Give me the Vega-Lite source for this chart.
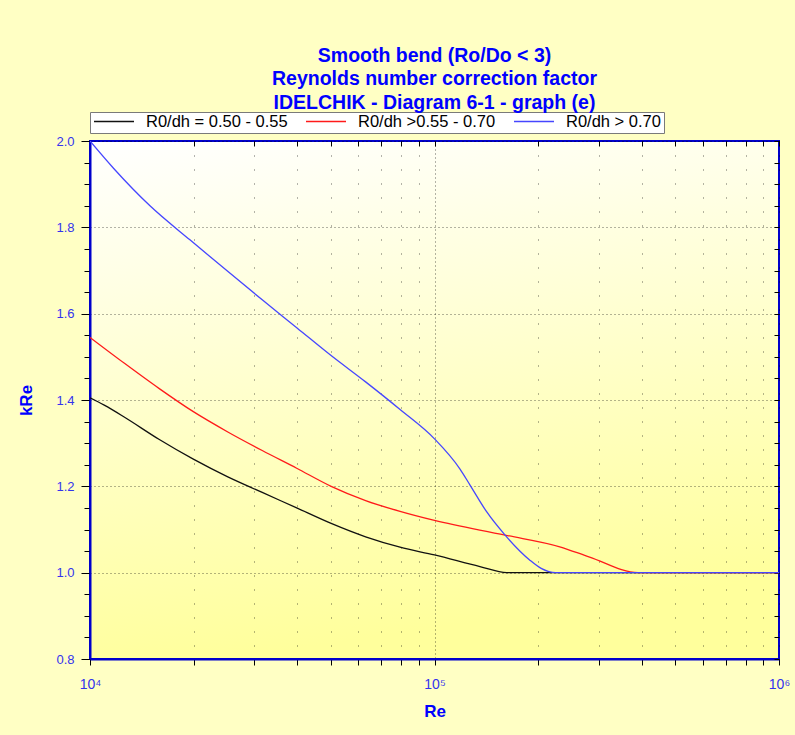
{
  "$schema": "https://vega.github.io/schema/vega-lite/v6.json",
  "width": 689,
  "height": 518,
  "autosize": {"type": "none"},
  "padding": {"left": 90, "top": 141, "right": 16, "bottom": 76},
  "background": "#FFFFC4",
  "title": {
    "text": ["Smooth bend (Ro/Do < 3)", "Reynolds number correction factor", "IDELCHIK - Diagram 6-1 - graph (e)"],
    "color": "#0000FF",
    "font": "Liberation Sans",
    "fontSize": 19.5,
    "fontWeight": "bold",
    "lineHeight": 23.5,
    "anchor": "middle",
    "frame": "group",
    "offset": -1.5
  },
  "view": {
    "fill": {
      "gradient": "linear",
      "x1": 0, "y1": 0, "x2": 0.2, "y2": 1,
      "stops": [
        {"offset": 0, "color": "#FFFFFF"},
        {"offset": 1, "color": "#FFFF9C"}
      ]
    },
    "stroke": "#0000CC",
    "strokeWidth": 2
  },
  "config": {
    "font": "Liberation Sans",
    "axis": {
      "labelFont": "Liberation Sans",
      "titleFont": "Liberation Sans"
    }
  },
  "data": {
    "values": [
      {"Re": 10000, "kRe": 1.405, "series": "R0/dh = 0.50 - 0.55"},
      {"Re": 11000, "kRe": 1.388, "series": "R0/dh = 0.50 - 0.55"},
      {"Re": 12600, "kRe": 1.360, "series": "R0/dh = 0.50 - 0.55"},
      {"Re": 15850, "kRe": 1.309, "series": "R0/dh = 0.50 - 0.55"},
      {"Re": 19950, "kRe": 1.263, "series": "R0/dh = 0.50 - 0.55"},
      {"Re": 25120, "kRe": 1.222, "series": "R0/dh = 0.50 - 0.55"},
      {"Re": 31620, "kRe": 1.186, "series": "R0/dh = 0.50 - 0.55"},
      {"Re": 39810, "kRe": 1.150, "series": "R0/dh = 0.50 - 0.55"},
      {"Re": 50120, "kRe": 1.114, "series": "R0/dh = 0.50 - 0.55"},
      {"Re": 63100, "kRe": 1.083, "series": "R0/dh = 0.50 - 0.55"},
      {"Re": 79430, "kRe": 1.059, "series": "R0/dh = 0.50 - 0.55"},
      {"Re": 100000, "kRe": 1.041, "series": "R0/dh = 0.50 - 0.55"},
      {"Re": 135500, "kRe": 1.014, "series": "R0/dh = 0.50 - 0.55"},
      {"Re": 162000, "kRe": 1.0, "series": "R0/dh = 0.50 - 0.55"},
      {"Re": 1000000, "kRe": 1.0, "series": "R0/dh = 0.50 - 0.55"},
      {"Re": 10000, "kRe": 1.545, "series": "R0/dh >0.55 - 0.70"},
      {"Re": 12590, "kRe": 1.485, "series": "R0/dh >0.55 - 0.70"},
      {"Re": 15850, "kRe": 1.427, "series": "R0/dh >0.55 - 0.70"},
      {"Re": 19950, "kRe": 1.373, "series": "R0/dh >0.55 - 0.70"},
      {"Re": 25120, "kRe": 1.326, "series": "R0/dh >0.55 - 0.70"},
      {"Re": 31620, "kRe": 1.283, "series": "R0/dh >0.55 - 0.70"},
      {"Re": 39810, "kRe": 1.242, "series": "R0/dh >0.55 - 0.70"},
      {"Re": 50120, "kRe": 1.200, "series": "R0/dh >0.55 - 0.70"},
      {"Re": 63100, "kRe": 1.167, "series": "R0/dh >0.55 - 0.70"},
      {"Re": 79430, "kRe": 1.142, "series": "R0/dh >0.55 - 0.70"},
      {"Re": 100000, "kRe": 1.121, "series": "R0/dh >0.55 - 0.70"},
      {"Re": 160300, "kRe": 1.087, "series": "R0/dh >0.55 - 0.70"},
      {"Re": 231000, "kRe": 1.060, "series": "R0/dh >0.55 - 0.70"},
      {"Re": 282000, "kRe": 1.036, "series": "R0/dh >0.55 - 0.70"},
      {"Re": 390000, "kRe": 1.0, "series": "R0/dh >0.55 - 0.70"},
      {"Re": 1000000, "kRe": 1.0, "series": "R0/dh >0.55 - 0.70"},
      {"Re": 10000, "kRe": 2.0, "series": "R0/dh > 0.70"},
      {"Re": 11700, "kRe": 1.937, "series": "R0/dh > 0.70"},
      {"Re": 14930, "kRe": 1.850, "series": "R0/dh > 0.70"},
      {"Re": 19500, "kRe": 1.771, "series": "R0/dh > 0.70"},
      {"Re": 25100, "kRe": 1.698, "series": "R0/dh > 0.70"},
      {"Re": 31620, "kRe": 1.632, "series": "R0/dh > 0.70"},
      {"Re": 39900, "kRe": 1.567, "series": "R0/dh > 0.70"},
      {"Re": 50100, "kRe": 1.503, "series": "R0/dh > 0.70"},
      {"Re": 63100, "kRe": 1.442, "series": "R0/dh > 0.70"},
      {"Re": 79430, "kRe": 1.378, "series": "R0/dh > 0.70"},
      {"Re": 100000, "kRe": 1.310, "series": "R0/dh > 0.70"},
      {"Re": 118600, "kRe": 1.240, "series": "R0/dh > 0.70"},
      {"Re": 126800, "kRe": 1.203, "series": "R0/dh > 0.70"},
      {"Re": 142000, "kRe": 1.140, "series": "R0/dh > 0.70"},
      {"Re": 160300, "kRe": 1.087, "series": "R0/dh > 0.70"},
      {"Re": 189200, "kRe": 1.029, "series": "R0/dh > 0.70"},
      {"Re": 204000, "kRe": 1.010, "series": "R0/dh > 0.70"},
      {"Re": 225000, "kRe": 1.0, "series": "R0/dh > 0.70"},
      {"Re": 1000000, "kRe": 1.0, "series": "R0/dh > 0.70"}
    ]
  },
  "resolve": {"axis": {"x": "independent", "y": "independent"}},
  "layer": [
    {
      "mark": {"type": "line", "interpolate": "monotone", "strokeWidth": 1.3, "clip": true},
      "encoding": {
        "x": {
          "field": "Re", "type": "quantitative",
          "scale": {"type": "log", "domain": [10000, 1000000], "nice": false},
          "axis": {
            "orient": "bottom",
            "title": "Re",
            "titleColor": "#0000FF",
            "titleFontSize": 17,
            "titleFontWeight": "bold",
            "titlePadding": 12,
            "values": [10000, 20000, 30000, 40000, 50000, 60000, 70000, 80000, 90000, 100000, 200000, 300000, 400000, 500000, 600000, 700000, 800000, 900000, 1000000],
            "labelExpr": "datum.value == 10000 ? '10⁴' : datum.value == 100000 ? '10⁵' : datum.value == 1000000 ? '10⁶' : ''",
            "labelColor": "#3333EE",
            "labelFontSize": 14,
            "labelPadding": 12,
            "labelFlush": false,
            "labelOverlap": false,
            "domainColor": "#0000CC",
            "domainWidth": 2,
            "tickColor": "#000000",
            "tickSize": 6,
            "tickWidth": 1,
            "grid": true,
            "gridColor": "#000000",
            "gridOpacity": 0.6,
            "gridDash": {"condition": {"test": "datum.value == 100000", "value": [1, 3]}, "value": [1, 13]}
          }
        },
        "y": {
          "field": "kRe", "type": "quantitative",
          "scale": {"domain": [0.8, 2.0], "nice": false, "zero": false},
          "axis": {
            "orient": "left",
            "title": "kRe",
            "titleColor": "#0000FF",
            "titleFontSize": 17,
            "titleFontWeight": "bold",
            "titlePadding": 20,
            "values": [0.8, 0.85, 0.9, 0.95, 1.0, 1.05, 1.1, 1.15, 1.2, 1.25, 1.3, 1.35, 1.4, 1.45, 1.5, 1.55, 1.6, 1.65, 1.7, 1.75, 1.8, 1.85, 1.9, 1.95, 2.0],
            "labelExpr": "abs(datum.value*5 - round(datum.value*5)) < 0.001 ? format(datum.value, '.1f') : ''",
            "labelColor": "#3333EE",
            "labelFontSize": 13,
            "labelPadding": 7,
            "labelOverlap": false,
            "labelFlush": false,
            "domainColor": "#0000CC",
            "domainWidth": 2,
            "tickColor": "#000000",
            "tickSize": {"condition": {"test": "abs(datum.value*5 - round(datum.value*5)) < 0.001", "value": 9}, "value": 6},
            "grid": true,
            "gridColor": "#000000",
            "gridDash": [1, 3],
            "gridOpacity": {"condition": {"test": "abs(datum.value*5 - round(datum.value*5)) < 0.001", "value": 0.6}, "value": 0}
          }
        },
        "color": {
          "field": "series", "type": "nominal",
          "scale": {
            "domain": ["R0/dh = 0.50 - 0.55", "R0/dh >0.55 - 0.70", "R0/dh > 0.70"],
            "range": ["#111111", "#FF1A1A", "#4646FF"]
          },
          "legend": {
            "title": null,
            "orient": "none",
            "legendX": 0,
            "legendY": -29,
            "direction": "horizontal",
            "fillColor": "#FFFFFF",
            "strokeColor": "#7A7A7A",
            "padding": 3,
            "symbolType": "stroke",
            "symbolSize": 1600,
            "symbolStrokeWidth": 1.5,
            "clipHeight": 13,
            "labelFont": "Liberation Sans",
            "labelFontSize": 16.5,
            "labelColor": "#000000",
            "labelOffset": 11,
            "columnPadding": 17,
            "labelLimit": 300
          }
        }
      }
    },
    {
      "mark": {"type": "point", "opacity": 0},
      "encoding": {
        "x": {
          "field": "Re", "type": "quantitative",
          "axis": {
            "orient": "top",
            "title": null,
            "labels": false,
            "domain": false,
            "grid": false,
            "values": [10000, 20000, 30000, 40000, 50000, 60000, 70000, 80000, 90000, 100000, 200000, 300000, 400000, 500000, 600000, 700000, 800000, 900000, 1000000],
            "tickColor": "#000000",
            "tickSize": -5
          }
        },
        "y": {
          "field": "kRe", "type": "quantitative",
          "axis": {
            "orient": "right",
            "title": null,
            "labels": false,
            "domain": false,
            "grid": false,
            "values": [0.8, 0.85, 0.9, 0.95, 1.0, 1.05, 1.1, 1.15, 1.2, 1.25, 1.3, 1.35, 1.4, 1.45, 1.5, 1.55, 1.6, 1.65, 1.7, 1.75, 1.8, 1.85, 1.9, 1.95, 2.0],
            "tickColor": "#000000",
            "tickSize": -5
          }
        }
      }
    }
  ]
}
